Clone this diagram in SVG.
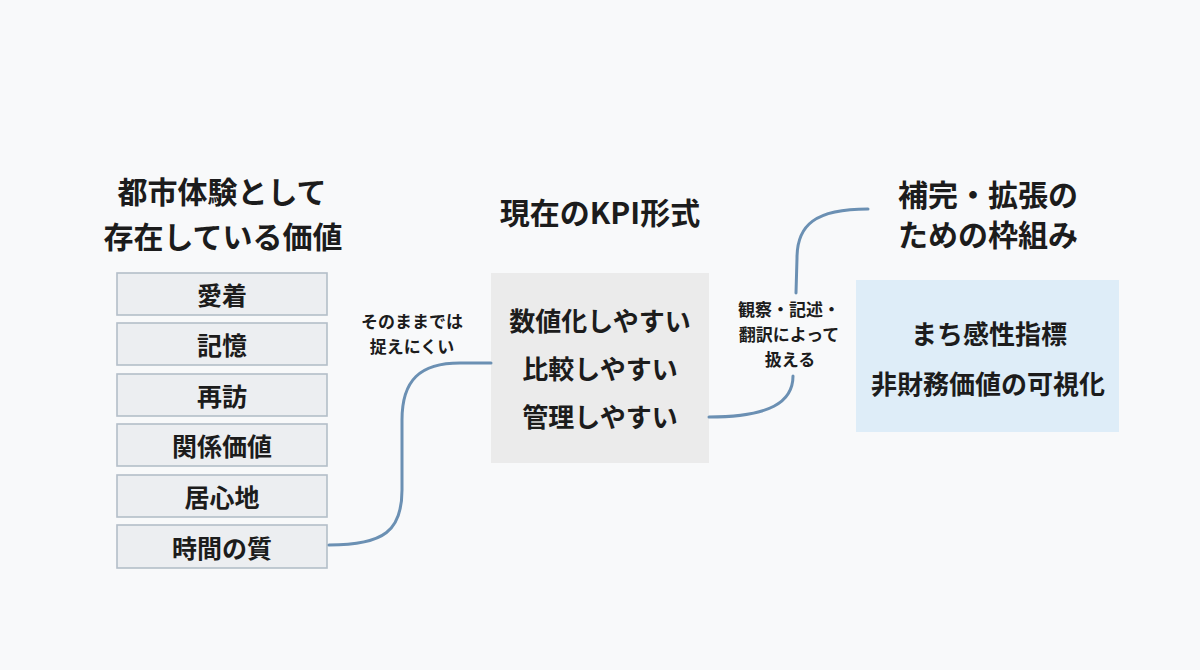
<svg xmlns="http://www.w3.org/2000/svg" width="1200" height="670" viewBox="0 0 1200 670">
<style>
text{font-family:"Noto Sans CJK JP","Noto Sans",sans-serif;font-weight:700;fill:#1c1c1c;text-anchor:middle;dominant-baseline:central}
.title{font-size:30px}
.item{font-size:25px}
.big{font-size:26px}
.lbl{font-size:17px}
.vbox{fill:#eceef1;stroke:#b3bec9;stroke-width:1.6}
.conn{fill:none;stroke:#6b90b3;stroke-width:3;stroke-linecap:round}
</style>
<rect width="1200" height="670" fill="#f8f9fa"/>
<g id="left-title">
<text class="title" x="222" y="190">都市体験として</text>
<text class="title" x="223" y="235">存在している価値</text>
</g>
<g id="v1"><rect class="vbox" x="117" y="273" width="210" height="42"/><text class="item" x="222" y="294">愛着</text></g>
<g id="v2"><rect class="vbox" x="117" y="323" width="210" height="42"/><text class="item" x="222" y="344">記憶</text></g>
<g id="v3"><rect class="vbox" x="117" y="374" width="210" height="42"/><text class="item" x="222" y="395">再訪</text></g>
<g id="v4"><rect class="vbox" x="117" y="424" width="210" height="42"/><text class="item" x="222" y="445">関係価値</text></g>
<g id="v5"><rect class="vbox" x="117" y="475" width="210" height="42"/><text class="item" x="222" y="496">居心地</text></g>
<g id="v6"><rect class="vbox" x="117" y="525" width="210" height="43"/><text class="item" x="222" y="547">時間の質</text></g>
<g id="kpi-title"><text class="title" x="600" y="211">現在のKPI形式</text></g>
<g id="kpi">
<rect x="491" y="273" width="218" height="190" fill="#ebebeb"/>
<text class="big" x="600" y="319">数値化しやすい</text>
<text class="big" x="600" y="367">比較しやすい</text>
<text class="big" x="600" y="415">管理しやすい</text>
</g>
<g id="right-title">
<text class="title" x="988" y="193">補完・拡張の</text>
<text class="title" x="988" y="233">ための枠組み</text>
</g>
<g id="framework">
<rect x="856" y="280" width="263" height="152" fill="#deedf8"/>
<text class="big" x="989" y="332">まち感性指標</text>
<text class="big" x="988" y="382">非財務価値の可視化</text>
</g>
<g id="connectors">
<path class="conn" d="M329 545 C385 545 402 530 402 490 L402 420 C402 380 420 363 460 363 L491 363"/>
<path class="conn" d="M709 417 C770 417 793 402 793 376"/>
<path class="conn" d="M796 293 L797 258 C797 225 815 209 868 209"/>
</g>
<g id="labels">
<text class="lbl" x="412" y="320">そのままでは</text>
<text class="lbl" x="412" y="345">捉えにくい</text>
<text class="lbl" x="789" y="308">観察・記述・</text>
<text class="lbl" x="789" y="333">翻訳によって</text>
<text class="lbl" x="790" y="358">扱える</text>
</g>
</svg>
